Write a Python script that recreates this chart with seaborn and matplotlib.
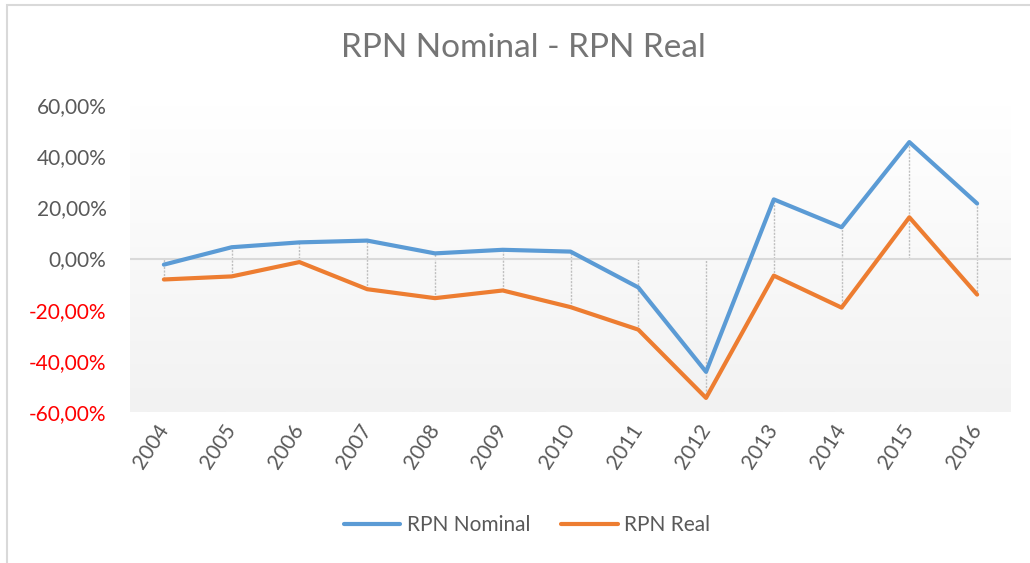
import numpy as np
import pandas as pd
import seaborn as sns
import matplotlib.pyplot as plt
from matplotlib.patches import Rectangle
from matplotlib.ticker import FuncFormatter

# Data (percent)
years = [2004, 2005, 2006, 2007, 2008, 2009, 2010, 2011, 2012, 2013, 2014, 2015, 2016]
rpn_nominal = [-2.4, 4.4, 6.3, 7.0, 2.0, 3.4, 2.7, -11.3, -44.3, 23.1, 12.2, 45.5, 21.5]
rpn_real = [-8.2, -7.0, -1.4, -12.0, -15.5, -12.5, -19.0, -27.8, -54.5, -6.7, -19.2, 16.1, -14.1]
series_names = ["RPN Nominal", "RPN Real"]
series_colors = ["#5B9BD5", "#ED7D31"]
y_ticks = [-60, -40, -20, 0, 20, 40, 60]

df = pd.DataFrame({
    "year": years * 2,
    "value": rpn_nominal + rpn_real,
    "series": [series_names[0]] * len(years) + [series_names[1]] * len(years),
})

sns.set_theme(style="white")
plt.rcParams["font.family"] = ["Lato", "DejaVu Sans"]

fig = plt.figure(figsize=(10.3, 5.63), dpi=100)
ax = fig.add_axes([130 / 1030, 1 - 412 / 563, 881 / 1030, 307 / 563])

# chart border (light gray, only top/left visible in the crop)
fig.patches.append(Rectangle((7 / 1030, -0.1), 1.2, 1.1 - 5 / 563, transform=fig.transFigure,
                             fill=False, edgecolor="#D9D9D9", linewidth=1.5, zorder=0))

# vertical gradient background of the plot area
grad = np.linspace(1, 0, 256).reshape(-1, 1)
top_c = np.array([1.0, 1.0, 1.0])
bot_c = np.array([0xF2, 0xF2, 0xF2]) / 255
img = grad[..., None] * top_c + (1 - grad[..., None]) * bot_c
ax.imshow(img, extent=[years[0] - 0.5, years[-1] + 0.5, -60, 60], aspect="auto", zorder=0)

# drop lines from the highest to the lowest value (including the axis at 0)
arr = np.array([rpn_nominal, rpn_real])
hi = np.maximum(arr.max(axis=0), 0)
lo = np.minimum(arr.min(axis=0), 0)
ax.vlines(years, lo, hi, colors="#BFBFBF", linestyles=(0, (1.5, 1)), linewidth=1.0, zorder=1)

ax.axhline(0, color="#D9D9D9", linewidth=1.5, zorder=1)

sns.lineplot(data=df, x="year", y="value", hue="series", palette=series_colors,
             linewidth=3.0, ax=ax, legend=False, zorder=3)

ax.set_xlim(years[0] - 0.5, years[-1] + 0.5)
ax.set_ylim(-60, 60)
ax.set_xlabel("")
ax.set_ylabel("")
for s in ax.spines.values():
    s.set_visible(False)

ax.set_yticks(y_ticks)
ax.yaxis.set_major_formatter(FuncFormatter(lambda v, p: f"{v:.2f}%".replace(".", ",")))
ax.tick_params(axis="y", length=0, pad=17, labelsize=15, labelcolor="#595959")
for lbl, v in zip(ax.get_yticklabels(), y_ticks):
    if v < 0:
        lbl.set_color("#FF0000")

ax.set_xticks(years)
ax.set_xticklabels([str(y) for y in years], rotation=57, ha="right", va="center",
                   rotation_mode="anchor")
ax.tick_params(axis="x", length=0, pad=10, labelsize=15, labelcolor="#595959")

fig.text(523 / 1030, 1 - 48 / 563, "RPN Nominal - RPN Real", ha="center", va="center",
         fontsize=24, color="#757575")

handles = [plt.Line2D([], [], color=c, linewidth=3.0) for c in series_colors]
fig.legend(handles, series_names, loc="center", bbox_to_anchor=(527 / 1030, 1 - 525 / 563),
           ncol=2, frameon=False, fontsize=15, labelcolor="#595959",
           handlelength=2.7, handletextpad=0.3, columnspacing=1.5)

fig.savefig("out.png", dpi=100)
